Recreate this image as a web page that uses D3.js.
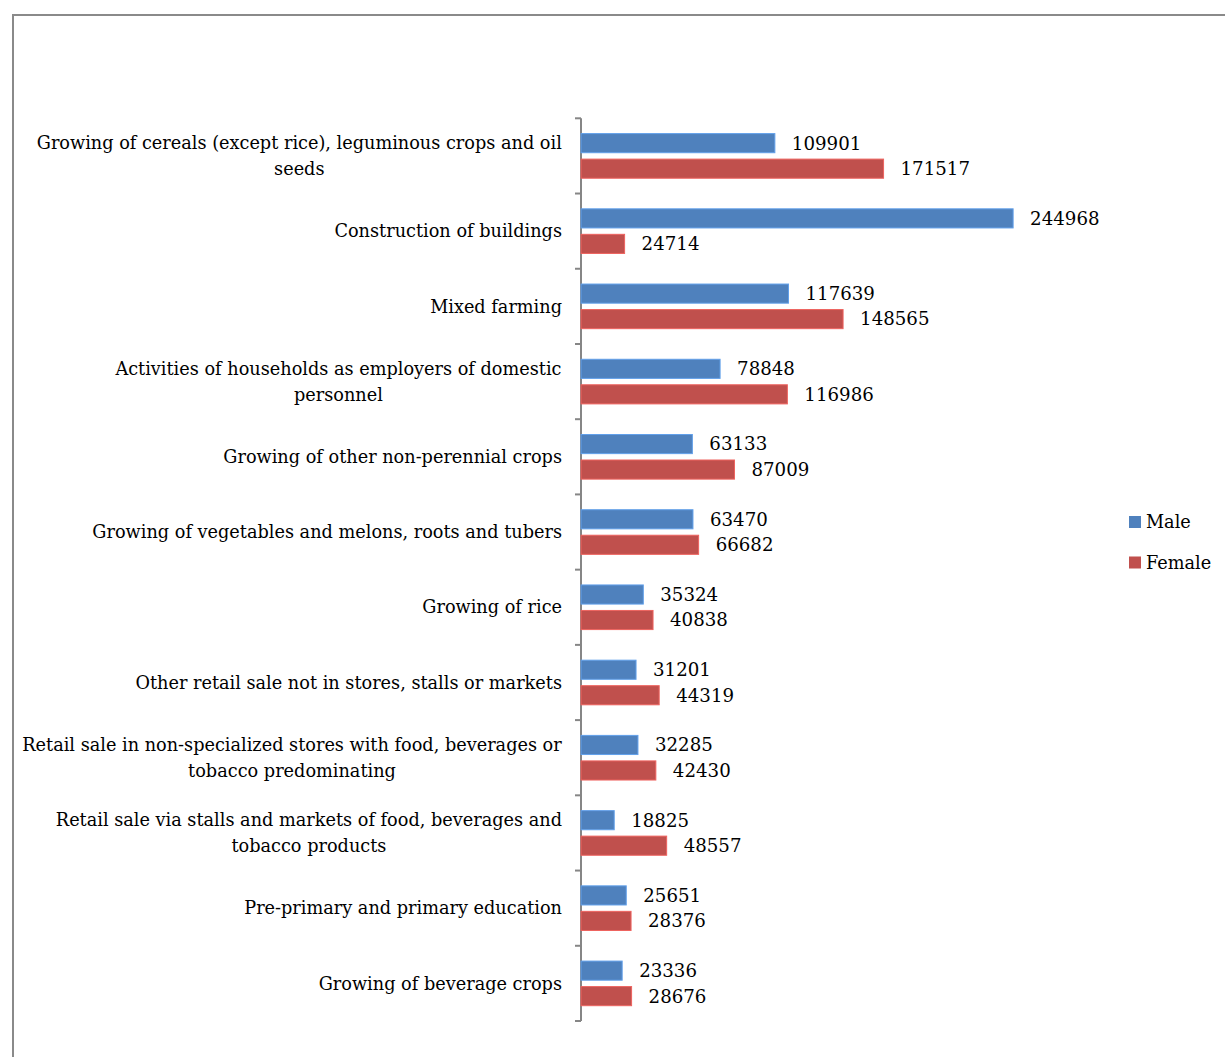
<!DOCTYPE html>
<html>
<head>
<meta charset="utf-8">
<script src="https://cdn.jsdelivr.net/npm/d3@7"></script>
<style>
  html, body { margin: 0; padding: 0; background: #fff; }
  svg { display: block; }
  text { font-family: "DejaVu Serif", "Liberation Serif", serif; fill: #000; }
</style>
</head>
<body>
<script>
// Employment by economic activity, split by sex
const categories = [
  "Growing of cereals (except rice), leguminous crops and oil|seeds",
  "Construction of buildings",
  "Mixed farming",
  "Activities of households as employers of domestic|personnel",
  "Growing of other non-perennial crops",
  "Growing of vegetables and melons, roots and tubers",
  "Growing of rice",
  "Other retail sale not in stores, stalls or markets",
  "Retail sale in non-specialized stores with food, beverages or|tobacco predominating",
  "Retail sale via stalls and markets of food, beverages and|tobacco products",
  "Pre-primary and primary education",
  "Growing of beverage crops"
];
const male   = [109901, 244968, 117639, 78848, 63133, 63470, 35324, 31201, 32285, 18825, 25651, 23336];
const female = [171517, 24714, 148565, 116986, 87009, 66682, 40838, 44319, 42430, 48557, 28376, 28676];
const seriesNames = ["Male", "Female"];
const seriesColors = ["#4F81BD", "#C0504D"];

const W = 1225, H = 1057;
const svg = d3.select("body").append("svg").attr("width", W).attr("height", H);

// outer chart frame
svg.append("rect")
  .attr("x", 13).attr("y", 15).attr("width", 1300).attr("height", 1200)
  .attr("fill", "none").attr("stroke", "#8a8a8a").attr("stroke-width", 2);

const x0 = 581, plotTop = 118.3, plotBottom = 1021;
const y = d3.scaleBand().domain(d3.range(categories.length)).range([plotTop, plotBottom]).paddingInner(0).paddingOuter(0);
const x = d3.scaleLinear().domain([0, 250000]).range([x0, x0 + 441]);
const inner = d3.scaleBand().domain([0, 1]).range([0, y.bandwidth()]).paddingInner(0.25).paddingOuter(0.6);

const fontSize = 18.2;
const labelSize = 17.7;

// category axis with ticks between categories
const axis = svg.append("g");
axis.append("line")
  .attr("x1", x0).attr("x2", x0).attr("y1", plotTop).attr("y2", plotBottom)
  .attr("stroke", "#868686").attr("stroke-width", 2);
d3.range(categories.length + 1).forEach(i => {
  const ty = plotTop + i * y.bandwidth();
  axis.append("line")
    .attr("x1", x0 - 6).attr("x2", x0).attr("y1", ty).attr("y2", ty)
    .attr("stroke", "#868686").attr("stroke-width", 2);
});

// category labels: block right-aligned, lines centred within it
categories.forEach((c, i) => {
  const lines = c.split("|");
  const cy = y(i) + y.bandwidth() / 2;
  const lh = 25.5;
  const t = svg.append("text")
    .attr("text-anchor", "middle")
    .attr("font-size", labelSize);
  lines.forEach((ln, k) => {
    t.append("tspan")
      .attr("x", 0)
      .attr("y", cy + (k - (lines.length - 1) / 2) * lh)
      .attr("dy", "0.35em")
      .text(ln);
  });
  const bb = t.node().getBBox();
  t.attr("transform", `translate(${562 - bb.width / 2},0)`);
});

// bars and value labels
[male, female].forEach((vals, s) => {
  const g = svg.append("g");
  vals.forEach((v, i) => {
    const by = y(i) + inner(s);
    g.append("rect")
      .attr("x", x(0)).attr("y", by)
      .attr("width", x(v) - x(0)).attr("height", inner.bandwidth())
      .attr("fill", seriesColors[s])
      .attr("stroke", d3.color(seriesColors[s]).brighter(0.6)).attr("stroke-width", 1);
    g.append("text")
      .attr("x", x(v) + 17).attr("y", by + inner.bandwidth() / 2)
      .attr("dy", "0.35em")
      .attr("font-size", fontSize)
      .text(v);
  });
});

// legend
seriesNames.forEach((n, s) => {
  const ly = 522 + s * 40.5;
  svg.append("rect")
    .attr("x", 1129).attr("y", ly - 6).attr("width", 12).attr("height", 12)
    .attr("fill", seriesColors[s]);
  svg.append("text")
    .attr("x", 1146).attr("y", ly).attr("dy", "0.35em")
    .attr("font-size", labelSize).text(n);
});
</script>
</body>
</html>
